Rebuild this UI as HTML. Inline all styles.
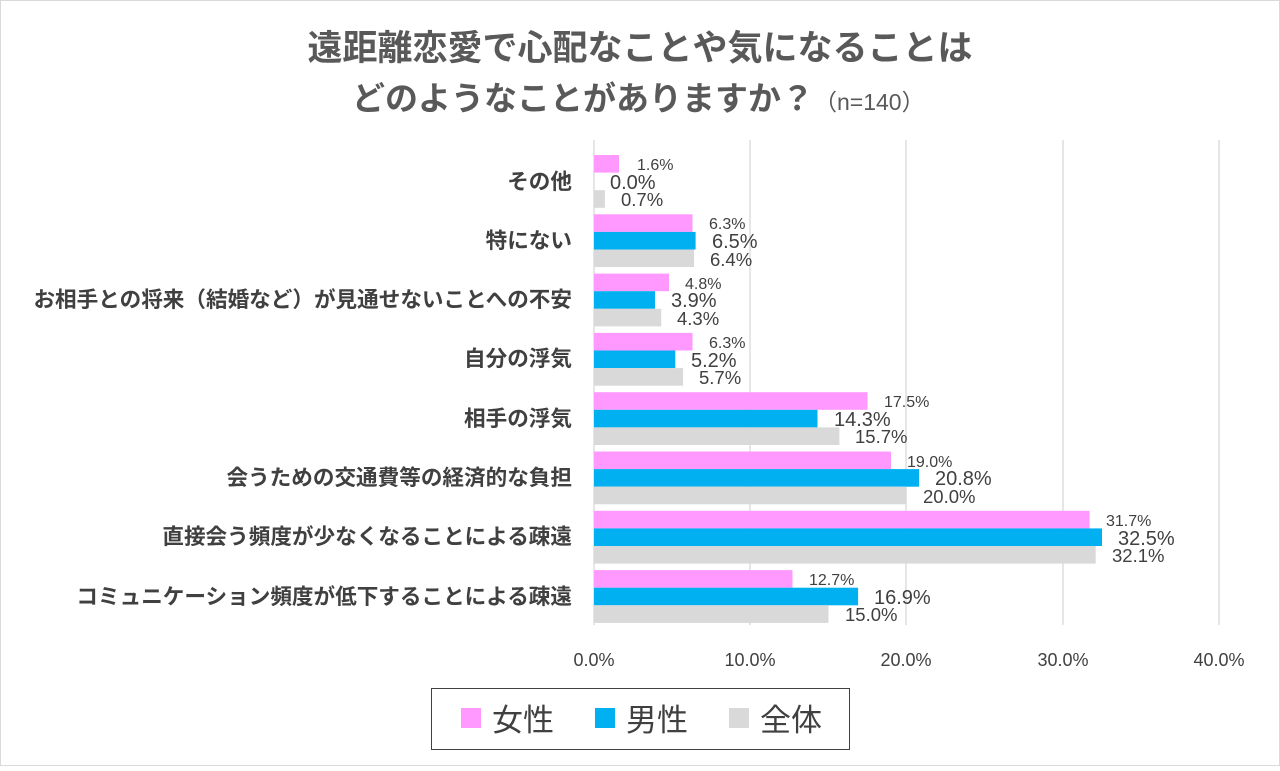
<!DOCTYPE html>
<html><head><meta charset="utf-8"><style>
body{margin:0;background:#fff}
svg text{font-family:"Liberation Sans","Noto Sans CJK JP",sans-serif;fill:#404040}
.c{font-size:21.6px;font-weight:bold;text-anchor:end}
.p{font-size:16px}.b{font-size:20px}.g{font-size:18.5px}
</style></head><body>
<svg width="1280" height="766" xmlns="http://www.w3.org/2000/svg">
<rect x="0.5" y="0.5" width="1279" height="765" fill="#fff" stroke="#d9d9d9"/>
<text x="640" y="60" text-anchor="middle" font-size="35" font-weight="bold" style="fill:#595959">遠距離恋愛で心配なことや気になることは</text>
<text x="352" y="110" font-size="33" font-weight="bold" style="fill:#595959">どのようなことがありますか？<tspan font-size="23" font-weight="normal">（n=140）</tspan></text>
<g stroke="#d9d9d9" stroke-width="1.3">
<line x1="750" y1="140" x2="750" y2="625"/><line x1="906" y1="140" x2="906" y2="625"/>
<line x1="1063" y1="140" x2="1063" y2="625"/><line x1="1219" y1="140" x2="1219" y2="625"/>
<line x1="594" y1="140" x2="594" y2="625"/>
</g>
<g font-size="18" text-anchor="middle">
<text x="594" y="666">0.0%</text><text x="750" y="666">10.0%</text><text x="906" y="666">20.0%</text><text x="1063" y="666">30.0%</text><text x="1219" y="666">40.0%</text>
</g>

<text class="c" x="572" y="189">その他</text>
<rect x="594" y="155" width="25" height="17.6" fill="#ff99ff"/><text class="p" x="637" y="170">1.6%</text>
<text class="b" x="610" y="189">0.0%</text>
<rect x="594" y="190.2" width="10.9" height="17.6" fill="#d9d9d9"/><text class="g" x="621" y="206">0.7%</text>

<text class="c" x="572" y="248">特にない</text>
<rect x="594" y="214.3" width="98.5" height="17.6" fill="#ff99ff"/><text class="p" x="709" y="229">6.3%</text>
<rect x="594" y="231.9" width="101.6" height="17.6" fill="#00b0f0"/><text class="b" x="712" y="248">6.5%</text>
<rect x="594" y="249.5" width="100" height="17.6" fill="#d9d9d9"/><text class="g" x="710" y="266">6.4%</text>

<text class="c" x="572" y="307">お相手との将来（結婚など）が見通せないことへの不安</text>
<rect x="594" y="273.6" width="75" height="17.6" fill="#ff99ff"/><text class="p" x="685" y="289">4.8%</text>
<rect x="594" y="291.2" width="61" height="17.6" fill="#00b0f0"/><text class="b" x="671" y="307">3.9%</text>
<rect x="594" y="308.8" width="67.2" height="17.6" fill="#d9d9d9"/><text class="g" x="677" y="325">4.3%</text>

<text class="c" x="572" y="366">自分の浮気</text>
<rect x="594" y="332.9" width="98.5" height="17.6" fill="#ff99ff"/><text class="p" x="709" y="348">6.3%</text>
<rect x="594" y="350.5" width="81.3" height="17.6" fill="#00b0f0"/><text class="b" x="691" y="367">5.2%</text>
<rect x="594" y="368.1" width="89.1" height="17.6" fill="#d9d9d9"/><text class="g" x="699" y="384">5.7%</text>

<text class="c" x="572" y="426">相手の浮気</text>
<rect x="594" y="392.2" width="273.5" height="17.6" fill="#ff99ff"/><text class="p" x="884" y="407">17.5%</text>
<rect x="594" y="409.8" width="223.5" height="17.6" fill="#00b0f0"/><text class="b" x="834" y="426">14.3%</text>
<rect x="594" y="427.4" width="245.4" height="17.6" fill="#d9d9d9"/><text class="g" x="855" y="443">15.7%</text>

<text class="c" x="572" y="485">会うための交通費等の経済的な負担</text>
<rect x="594" y="451.5" width="297" height="17.6" fill="#ff99ff"/><text class="p" x="907" y="467">19.0%</text>
<rect x="594" y="469.1" width="325.1" height="17.6" fill="#00b0f0"/><text class="b" x="935" y="485">20.8%</text>
<rect x="594" y="486.7" width="312.6" height="17.6" fill="#d9d9d9"/><text class="g" x="923" y="503">20.0%</text>

<text class="c" x="572" y="544">直接会う頻度が少なくなることによる疎遠</text>
<rect x="594" y="510.8" width="495.5" height="17.6" fill="#ff99ff"/><text class="p" x="1106" y="526">31.7%</text>
<rect x="594" y="528.4" width="508" height="17.6" fill="#00b0f0"/><text class="b" x="1118" y="545">32.5%</text>
<rect x="594" y="546" width="501.7" height="17.6" fill="#d9d9d9"/><text class="g" x="1112" y="562">32.1%</text>

<text class="c" x="572" y="604">コミュニケーション頻度が低下することによる疎遠</text>
<rect x="594" y="570.1" width="198.5" height="17.6" fill="#ff99ff"/><text class="p" x="809" y="585">12.7%</text>
<rect x="594" y="587.7" width="264.1" height="17.6" fill="#00b0f0"/><text class="b" x="874" y="604">16.9%</text>
<rect x="594" y="605.3" width="234.5" height="17.6" fill="#d9d9d9"/><text class="g" x="845" y="621">15.0%</text>

<rect x="431.5" y="688.5" width="418" height="61" fill="none" stroke="#404040"/>
<rect x="461" y="708" width="20" height="20" fill="#ff99ff"/>
<text x="492" y="731" font-size="31">女性</text>
<rect x="595" y="708" width="20" height="20" fill="#00b0f0"/>
<text x="626" y="731" font-size="31">男性</text>
<rect x="729" y="708" width="20" height="20" fill="#d9d9d9"/>
<text x="760" y="731" font-size="31">全体</text>
</svg>
</body></html>
